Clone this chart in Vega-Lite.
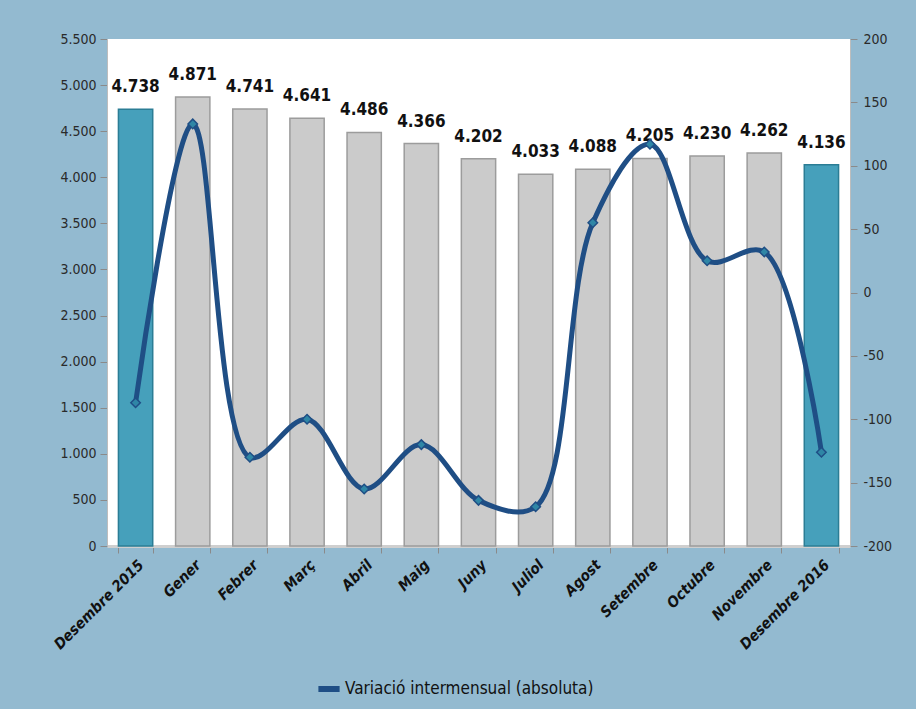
{
  "$schema": "https://vega.github.io/schema/vega-lite/v6.json",
  "width": 743,
  "height": 507,
  "autosize": "none",
  "padding": {"left": 107, "top": 39, "right": 66, "bottom": 163},
  "background": "#93bad0",
  "config": {
    "locale": {"number": {"decimal": ",", "thousands": ".", "grouping": [3], "currency": ["", " €"], "minus": "-"}},
    "font": "DejaVu Sans Condensed, Roboto",
    "view": {"fill": "white", "stroke": null},
    "axis": {"labelFont": "DejaVu Sans Condensed, Roboto", "labelColor": "#2a2a2a", "labelFontSize": 14, "domainColor": "#bdbdbd", "tickColor": "#8a8a8a", "grid": false, "title": null}
  },
  "data": {"values": [
    {"mes": "Desembre 2015", "valor": 4738, "var": -87, "tipus": "des"},
    {"mes": "Gener", "valor": 4871, "var": 133, "tipus": "mes"},
    {"mes": "Febrer", "valor": 4741, "var": -130, "tipus": "mes"},
    {"mes": "Març", "valor": 4641, "var": -100, "tipus": "mes"},
    {"mes": "Abril", "valor": 4486, "var": -155, "tipus": "mes"},
    {"mes": "Maig", "valor": 4366, "var": -120, "tipus": "mes"},
    {"mes": "Juny", "valor": 4202, "var": -164, "tipus": "mes"},
    {"mes": "Juliol", "valor": 4033, "var": -169, "tipus": "mes"},
    {"mes": "Agost", "valor": 4088, "var": 55, "tipus": "mes"},
    {"mes": "Setembre", "valor": 4205, "var": 117, "tipus": "mes"},
    {"mes": "Octubre", "valor": 4230, "var": 25, "tipus": "mes"},
    {"mes": "Novembre", "valor": 4262, "var": 32, "tipus": "mes"},
    {"mes": "Desembre 2016", "valor": 4136, "var": -126, "tipus": "des"}
  ]},
  "encoding": {
    "x": {"field": "mes", "type": "nominal", "sort": null,
      "scale": {"paddingInner": 0.4, "paddingOuter": 0.2},
      "axis": {"labelAngle": -45, "labelFontWeight": "bold", "labelFontStyle": "italic", "labelFontSize": 15, "labelColor": "#111111", "tickBand": "extent", "tickSize": 7, "labelPadding": 4, "domainWidth": 3, "domainColor": "#cfcfcf"}}
  },
  "layer": [
    {
      "layer": [
        {
          "mark": {"type": "bar", "strokeWidth": 1.5},
          "encoding": {
            "y": {"field": "valor", "type": "quantitative", "scale": {"domain": [0, 5500]},
              "axis": {"values": [0, 500, 1000, 1500, 2000, 2500, 3000, 3500, 4000, 4500, 5000, 5500], "format": ",d", "tickSize": 7, "labelPadding": 4}},
            "fill": {"condition": {"test": "datum.tipus == 'des'", "value": "#46a0bb"}, "value": "#cbcbcb"},
            "stroke": {"condition": {"test": "datum.tipus == 'des'", "value": "#2b7d95"}, "value": "#9c9c9c"}
          }
        },
        {
          "mark": {"type": "text", "dy": -13, "fontSize": 17, "fontWeight": "bold", "color": "#111111", "baseline": "bottom", "font": "DejaVu Sans Condensed, Roboto"},
          "encoding": {
            "y": {"field": "valor", "type": "quantitative", "scale": {"domain": [0, 5500]}},
            "text": {"field": "valor", "type": "quantitative", "format": ",d"}
          }
        }
      ]
    },
    {
      "layer": [
        {
          "mark": {"type": "line", "interpolate": "catmull-rom", "strokeWidth": 5},
          "encoding": {
            "y": {"field": "var", "type": "quantitative", "scale": {"domain": [-200, 200]},
              "axis": {"orient": "right", "values": [-200, -150, -100, -50, 0, 50, 100, 150, 200], "format": "d", "tickSize": 7, "labelPadding": 6}},
            "color": {"datum": "Variació intermensual (absoluta)", "type": "nominal",
              "scale": {"range": ["#1f4e85"]},
              "legend": {"title": null, "orient": "none", "legendX": 208, "legendY": 636, "labelFontSize": 17, "labelLimit": 500, "labelColor": "#111111", "labelFont": "DejaVu Sans Condensed, Roboto", "symbolType": "stroke", "symbolStrokeWidth": 6, "symbolSize": 450, "labelOffset": 2}}
          }
        },
        {
          "mark": {"type": "point", "shape": "diamond", "size": 90, "filled": true, "fill": "#2f86a6", "stroke": "#1f4e85", "strokeWidth": 1.5, "opacity": 1},
          "encoding": {
            "y": {"field": "var", "type": "quantitative", "scale": {"domain": [-200, 200]}}
          }
        }
      ]
    }
  ],
  "resolve": {"scale": {"y": "independent"}}
}
